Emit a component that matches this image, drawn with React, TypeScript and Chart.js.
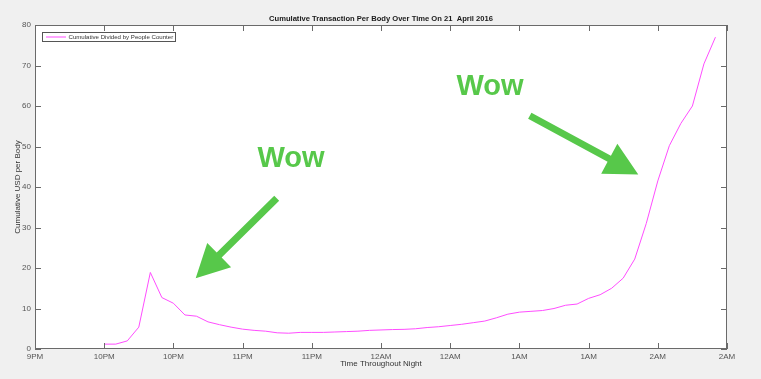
import React, { useEffect, useRef } from "react";
import { Chart, registerables } from "chart.js";

Chart.register(...registerables);

// ---- data ----
const tickLabels = ["9PM", "10PM", "10PM", "11PM", "11PM", "12AM", "12AM", "1AM", "1AM", "2AM", "2AM"];
const firstSampleTick = 1; // first sample sits on the second tick
const samplesPerTick = 6; // 5-minute samples, ticks every 30 minutes
const cumulativePerBody = [
  1.2, 1.2, 2.0, 5.4, 18.9, 12.7, 11.3, 8.4, 8.1, 6.7,
  6.0, 5.4, 4.9, 4.6, 4.4, 4.0, 3.9, 4.1, 4.1, 4.1,
  4.2, 4.3, 4.4, 4.6, 4.7, 4.8, 4.85, 5.0, 5.3, 5.5,
  5.8, 6.1, 6.5, 6.9, 7.7, 8.6, 9.1, 9.3, 9.5, 10.0,
  10.8, 11.1, 12.5, 13.4, 15.0, 17.5, 22.2, 31.0, 41.5, 50.2,
  55.7, 60.0, 70.4, 77.0,
];
const yMin = 0;
const yMax = 80;
const yStep = 10;
const seriesLabel = "Cumulative Divided by People Counter";
const chartTitle = "Cumulative Transaction Per Body Over Time On 21  April 2016";
const xTitle = "Time Throughout Night";
const yTitle = "Cumulative USD per Body";
const annotationText = "Wow";

const FONT = "'Liberation Sans', Arial, Helvetica, sans-serif";
const AXIS = "#6a6a6a";
const GREEN = "#57c84a";
const LINE = "#ff4dff";

function drawArrow(ctx: CanvasRenderingContext2D, x1: number, y1: number, x2: number, y2: number) {
  const shaft = 7, headLen = 33, headHalf = 17;
  const ang = Math.atan2(y2 - y1, x2 - x1);
  const len = Math.hypot(x2 - x1, y2 - y1);
  ctx.save();
  ctx.translate(x1, y1);
  ctx.rotate(ang);
  ctx.beginPath();
  ctx.moveTo(0, -shaft / 2);
  ctx.lineTo(len - headLen, -shaft / 2);
  ctx.lineTo(len - headLen, -headHalf);
  ctx.lineTo(len, 0);
  ctx.lineTo(len - headLen, headHalf);
  ctx.lineTo(len - headLen, shaft / 2);
  ctx.lineTo(0, shaft / 2);
  ctx.closePath();
  ctx.fillStyle = GREEN;
  ctx.fill();
  ctx.restore();
}

const decorPlugin = {
  id: "decor",
  beforeDraw(chart: any) {
    const { ctx, chartArea: a } = chart;
    ctx.save();
    ctx.fillStyle = "#f0f0f0";
    ctx.fillRect(0, 0, chart.width, chart.height);
    ctx.fillStyle = "#ffffff";
    ctx.fillRect(a.left, a.top, a.right - a.left, a.bottom - a.top);
    ctx.restore();
  },
  afterDraw(chart: any) {
    const { ctx, chartArea: a, scales } = chart;
    const xs = scales.x, ys = scales.y;
    ctx.save();
    // box
    ctx.strokeStyle = AXIS;
    ctx.lineWidth = 1;
    ctx.strokeRect(Math.round(a.left) + 0.5, Math.round(a.top) + 0.5, Math.round(a.right - a.left) - 1, Math.round(a.bottom - a.top) - 1);
    // inward ticks
    const tl = 6;
    ctx.beginPath();
    xs.ticks.forEach((t: any) => {
      const px = Math.round(xs.getPixelForValue(t.value)) + 0.5;
      ctx.moveTo(px, a.bottom);
      ctx.lineTo(px, a.bottom - tl);
      ctx.moveTo(px, a.top);
      ctx.lineTo(px, a.top + tl);
    });
    ys.ticks.forEach((t: any) => {
      const py = Math.round(ys.getPixelForValue(t.value)) + 0.5;
      ctx.moveTo(a.left, py);
      ctx.lineTo(a.left + tl, py);
      ctx.moveTo(a.right, py);
      ctx.lineTo(a.right - tl, py);
    });
    ctx.stroke();

    // title
    const cx = (a.left + a.right) / 2;
    ctx.fillStyle = "#1a1a1a";
    ctx.font = `bold 7.6px ${FONT}`;
    ctx.textAlign = "center";
    ctx.textBaseline = "middle";
    ctx.fillText(chartTitle, cx, 18.5);
    // axis titles
    ctx.fillStyle = "#333";
    ctx.font = `8px ${FONT}`;
    ctx.fillText(xTitle, cx, 364);
    ctx.save();
    ctx.translate(18, (a.top + a.bottom) / 2);
    ctx.rotate(-Math.PI / 2);
    ctx.fillText(yTitle, 0, 0);
    ctx.restore();

    // legend
    const lx = a.left + 7, ly = a.top + 7;
    ctx.fillStyle = "#fff";
    ctx.fillRect(lx, ly, 133, 9);
    ctx.strokeStyle = "#555";
    ctx.strokeRect(lx + 0.5, ly + 0.5, 133, 9);
    ctx.strokeStyle = LINE;
    ctx.beginPath();
    ctx.moveTo(lx + 4, ly + 5);
    ctx.lineTo(lx + 24, ly + 5);
    ctx.stroke();
    ctx.fillStyle = "#333";
    ctx.font = `6.1px ${FONT}`;
    ctx.textAlign = "left";
    ctx.fillText(seriesLabel, lx + 26.5, ly + 5);

    // annotations (placed in data coordinates)
    const P = (xv: number, yv: number) => [xs.getPixelForValue(xv), ys.getPixelForValue(yv)];
    ctx.fillStyle = GREEN;
    ctx.font = `bold 29px ${FONT}`;
    ctx.textAlign = "center";
    ctx.textBaseline = "middle";
    const t1 = P(3.70, 46.9);
    ctx.fillText(annotationText, t1[0], t1[1]);
    const t2 = P(6.575, 64.6);
    ctx.fillText(annotationText, t2[0], t2[1]);
    const a1s = P(3.493, 37.2), a1e = P(2.322, 17.46);
    drawArrow(ctx, a1s[0], a1s[1], a1e[0], a1e[1]);
    const a2s = P(7.15, 57.6), a2e = P(8.718, 43.1);
    drawArrow(ctx, a2s[0], a2s[1], a2e[0], a2e[1]);
    ctx.restore();
  },
};

export default function App() {
  const ref = useRef<HTMLCanvasElement | null>(null);
  useEffect(() => {
    document.body.style.margin = "0";
    const canvas = ref.current;
    if (!canvas) return;
    const points = cumulativePerBody.map((v, i) => ({ x: firstSampleTick + i / samplesPerTick, y: v }));
    const chart = new Chart(canvas, {
      type: "line",
      data: {
        datasets: [
          {
            label: seriesLabel,
            data: points,
            borderColor: LINE,
            borderWidth: 1,
            pointRadius: 0,
            tension: 0,
            fill: false,
          },
        ],
      },
      options: {
        responsive: false,
        animation: false,
        devicePixelRatio: 1,
        layout: { padding: { left: 0, top: 25, right: 34, bottom: 0 } },
        plugins: { legend: { display: false }, tooltip: { enabled: false }, title: { display: false } },
        scales: {
          x: {
            type: "linear",
            min: 0,
            max: tickLabels.length - 1,
            grid: { display: false, drawTicks: false },
            border: { display: false },
            afterFit: (s: any) => { s.height = 30; },
            ticks: {
              stepSize: 1,
              autoSkip: false,
              maxRotation: 0,
              padding: 3,
              color: "#555",
              font: { family: FONT, size: 8 },
              callback: (v: any) => tickLabels[Math.round(Number(v))] ?? "",
            },
          },
          y: {
            min: yMin,
            max: yMax,
            grid: { display: false, drawTicks: false },
            border: { display: false },
            afterFit: (s: any) => { s.width = 35; },
            ticks: {
              stepSize: yStep,
              padding: 4,
              color: "#555",
              font: { family: FONT, size: 8 },
            },
          },
        },
      },
      plugins: [decorPlugin],
    } as any);
    return () => chart.destroy();
  }, []);
  return (
    <div style={{ position: "fixed", left: 0, top: 0, width: 761, height: 379, background: "#f0f0f0" }}>
      <canvas ref={ref} width={761} height={379} />
    </div>
  );
}
